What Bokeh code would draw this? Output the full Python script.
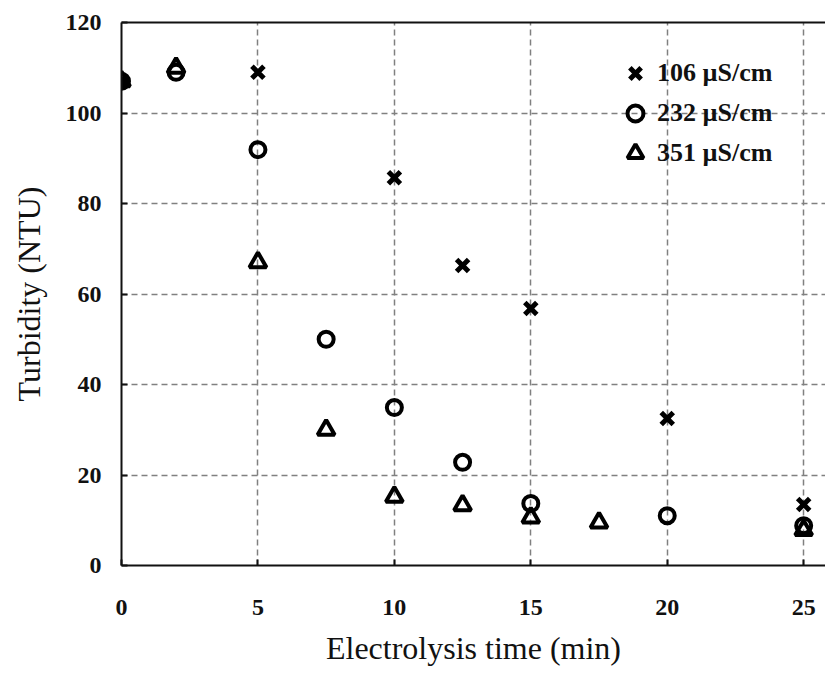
from bokeh.plotting import figure
from bokeh.models import LinearAxis, Range1d, FixedTicker, Legend, LegendItem
from bokeh.embed import file_html
from bokeh.resources import INLINE

# Data
time_106 = [0, 5, 10, 12.5, 15, 20, 25]
turb_106 = [107, 109, 85.7, 66.3, 56.8, 32.5, 13.5]
time_232 = [0, 2, 5, 7.5, 10, 12.5, 15, 20, 25]
turb_232 = [107, 109, 91.9, 50, 34.9, 22.8, 13.7, 11.0, 8.8]
time_351 = [0, 2, 5, 7.5, 10, 12.5, 15, 17.5, 25]
turb_351 = [107, 110, 67, 30, 15.2, 13.3, 10.6, 9.5, 7.8]
series_labels = ["106 \u00b5S/cm", "232 \u00b5S/cm", "351 \u00b5S/cm"]
x_ticks = [0, 5, 10, 15, 20, 25]
y_ticks = [0, 20, 40, 60, 80, 100, 120]

FONT = "Liberation Serif"

p = figure(width=825, height=675, output_backend="svg", toolbar_location=None,
           x_range=Range1d(0, 25.8), y_range=Range1d(0, 120),
           min_border_left=121, min_border_right=0, min_border_top=22, min_border_bottom=110)
p.outline_line_color = None
p.background_fill_color = "white"
p.border_fill_color = "white"

r1 = p.scatter(time_106, turb_106, marker="x", size=17, line_width=5, line_color="black")
r2 = p.scatter(time_232, turb_232, marker="circle", size=15, line_width=4,
               line_color="black", fill_color=None)
r3 = p.scatter(time_351, turb_351, marker="triangle", size=17, line_width=4,
               line_color="black", fill_color=None)

for ax in (p.xaxis[0], p.yaxis[0]):
    ax.axis_line_width = 2
    ax.axis_line_color = "#111111"
    ax.major_tick_in = 6
    ax.major_tick_out = 0
    ax.major_tick_line_width = 2
    ax.major_tick_line_color = "#111111"
    ax.minor_tick_line_color = None
    ax.major_label_text_font = FONT
    ax.major_label_text_font_style = "bold"
    ax.major_label_text_font_size = "24px"
    ax.major_label_text_color = "#111111"
    ax.axis_label_text_font = FONT
    ax.axis_label_text_font_style = "normal"
    ax.axis_label_text_font_size = "32px"
    ax.axis_label_text_color = "#111111"

p.xaxis[0].ticker = FixedTicker(ticks=x_ticks)
p.yaxis[0].ticker = FixedTicker(ticks=y_ticks)
p.xaxis[0].axis_label = "Electrolysis time (min)"
p.yaxis[0].axis_label = "Turbidity (NTU)"
p.xaxis[0].major_label_standoff = 34
p.xaxis[0].axis_label_standoff = 12
p.yaxis[0].major_label_standoff = 20
p.yaxis[0].axis_label_standoff = 16

# top border line
top = LinearAxis(ticker=FixedTicker(ticks=[]), axis_line_width=2, axis_line_color="#111111",
                 major_tick_in=0, major_tick_out=0, minor_tick_line_color=None,
                 major_label_text_font_size="0px")
p.add_layout(top, "above")

p.xgrid.ticker = FixedTicker(ticks=x_ticks)
p.ygrid.ticker = FixedTicker(ticks=y_ticks)
for g in (p.xgrid[0], p.ygrid[0]):
    g.grid_line_color = "#808080"
    g.grid_line_width = 1.5
    g.grid_line_dash = "6 4"

legend = Legend(items=[LegendItem(label=series_labels[0], renderers=[r1]),
                       LegendItem(label=series_labels[1], renderers=[r2]),
                       LegendItem(label=series_labels[2], renderers=[r3])],
                location=(494, 392), orientation="vertical")
legend.background_fill_alpha = 0
legend.border_line_color = None
legend.padding = 6
legend.margin = 0
legend.spacing = 0
legend.glyph_width = 40
legend.glyph_height = 40
legend.label_height = 40
legend.label_standoff = 2
legend.label_text_font = FONT
legend.label_text_font_style = "bold"
legend.label_text_font_size = "26px"
legend.label_text_color = "#111111"
p.add_layout(legend, "center")

open("out.html", "w").write(file_html(p, INLINE))
